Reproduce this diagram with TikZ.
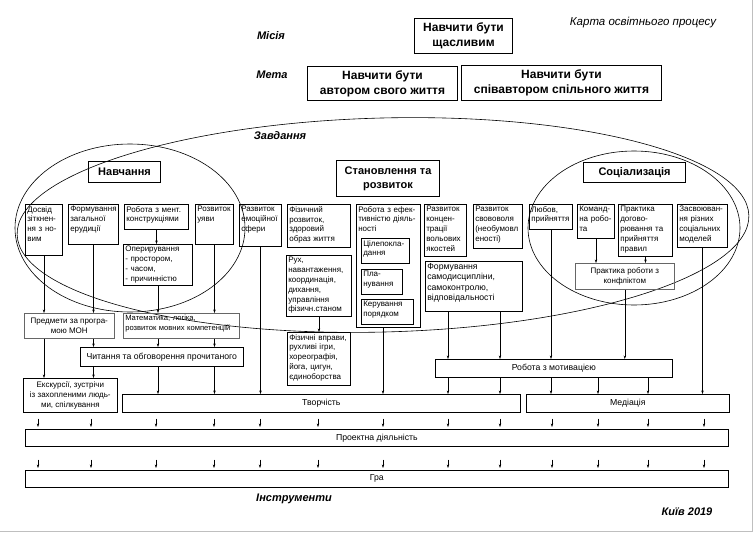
\documentclass[tikz,border=0pt]{standalone}
\usepackage{fontspec}
\setmainfont{Liberation Sans}
\usetikzlibrary{arrows.meta}

\newcommand{\boxfont}{\fontsize{8}{9.8}\selectfont}
\newcommand{\midfont}{\fontsize{8.7}{10.5}\selectfont}
\newcommand{\headfont}{\fontsize{11}{14}\selectfont\bfseries}
\newcommand{\goalfont}{\fontsize{12}{15}\selectfont\bfseries}
\newcommand{\lblfont}{\fontsize{11}{13}\selectfont\bfseries\itshape}

\tikzset{
  sbox/.style={draw, line width=0.6pt, anchor=north west, align=left, inner sep=2pt, font=\boxfont},
  cbox/.style={draw, line width=0.6pt, anchor=north west, align=center, inner sep=1pt, font=\boxfont},
  hbox/.style={draw, line width=1.1pt, anchor=north west, align=center, inner sep=1pt, font=\headfont},
  gbox/.style={draw, line width=1pt, anchor=north west, align=center, inner sep=1pt, font=\goalfont},
  bar/.style={draw, line width=0.7pt, anchor=north west, inner sep=0pt, font=\midfont},
  lbl/.style={font=\lblfont},
  arr/.style={-{Stealth[length=3.5pt,width=2.4pt]}, line width=0.5pt},
  oval/.style={line width=0.6pt},
}

\begin{document}
\begin{tikzpicture}[x=1pt, y=-1pt]
\useasboundingbox (0,0) rectangle (755,533);
\draw[black!25, line width=1pt] (752,0) -- (752,531) -- (0,531);

% labels
\node[lbl] (misia) at (271,36) {Місія};
\node[lbl] (meta) at (272,75) {Мета};
\node[lbl] (zavd) at (280,136) {Завдання};
\node[lbl] (instr) at (294,499) {Інструменти};
\node[lbl] (kyiv) at (687,512) {Київ 2019};
\node[font=\fontsize{11.5}{13}\selectfont\itshape] (karta) at (643,23) {Карта освітнього процесу};

% mission and goals
\node[gbox, minimum width=98pt, minimum height=35pt] (mission) at (414,18) {Навчити бути\\щасливим};
\node[gbox, minimum width=150pt, minimum height=34pt] (goal1) at (307,66) {Навчити бути\\автором свого життя};
\node[gbox, minimum width=200pt, minimum height=35pt] (goal2) at (461,65) {Навчити бути\\співавтором спільного життя};

% ovals
\draw[oval, rotate around={1.5:(383,225)}] (383,225) ellipse [x radius=366pt, y radius=107pt];
\draw[oval] (130,228) ellipse [x radius=115pt, y radius=84pt];
\draw[oval] (634,228) ellipse [x radius=106pt, y radius=77pt];

% headers
\node[hbox, minimum width=72pt, minimum height=21pt] (navch) at (88,161) {Навчання};
\node[hbox, minimum width=103pt, minimum height=36pt] (stanov) at (336,160) {Становлення та\\розвиток};
\node[hbox, minimum width=102pt, minimum height=20pt] (socia) at (583,162) {Соціализація};

% task row
\node[sbox, text width=33.4pt, text depth=41.6pt] (dosvid) at (25,204) {Досвід\\зіткнен-\\ня з но-\\вим};
\node[sbox, text width=46.4pt, text depth=30.6pt] (erud) at (68,204) {Формування\\загальної\\ерудиції};
\node[sbox, text width=60.4pt, text depth=15.6pt] (ment) at (124,204) {Робота з мент.\\конструкціями};
\node[sbox, text width=34.4pt, text depth=30.6pt] (uyava) at (195,204) {Розвиток\\уяви};
\node[sbox, text width=38.4pt, text depth=32.6pt] (emoc) at (239,204) {Развиток\\емоційної\\сфери};
\node[sbox, text width=59.4pt, text depth=32.6pt] (fiz) at (287,204) {Фізичний\\розвиток,\\здоровий\\образ життя};
\node[sbox, text width=60.4pt, text depth=113.6pt] (efekt) at (356,204) {Робота з ефек-\\тивністю діяль-\\ності};
\node[sbox, text width=44.4pt, text depth=15.6pt] (cil) at (361,238) {Цілепокла-\\дання};
\node[sbox, text width=37.4pt, text depth=15.6pt] (plan) at (361,269) {Пла-\\нування};
\node[sbox, text width=48.4pt, text depth=15.6pt] (keruv) at (361,299) {Керування\\порядком};
\node[sbox, text width=38.4pt, text depth=42.6pt] (konc) at (424,204) {Развиток\\концен-\\трації\\вольових\\якостей};
\node[sbox, text width=45.4pt, text depth=34.6pt] (svav) at (473,204) {Развиток\\свововоля\\(необумовл\\еності)};
\node[sbox, text width=39.4pt, text depth=15.6pt] (liubov) at (529,204) {Любов,\\прийняття};
\node[sbox, text width=33.4pt, text depth=24.6pt] (komanda) at (577,204) {Команд-\\на робо-\\та};
\node[sbox, text width=50.4pt, text depth=42.6pt] (dogov) at (618,204) {Практика\\догово-\\рювання та\\прийняття\\правил};
\node[sbox, text width=46.4pt, text depth=33.6pt] (zasv) at (677,204) {Засвоюван-\\ня різних\\соціальних\\моделей};

% second level
\node[sbox, text width=65.4pt, text depth=31.6pt] (operyr) at (123,244) {Оперирування\\- простором,\\- часом,\\- причинністю};
\node[sbox, text width=61.4pt, text depth=51.6pt] (rukh) at (286,255) {Рух,\\навантаження,\\координація,\\дихання,\\управління\\фізичн.станом};
\node[sbox, font=\midfont, text width=93.4pt, text depth=40pt] (samod) at (425,261) {Формування\\самодисципліни,\\самоконтролю,\\відповідальності};
\node[cbox, draw=black!60, minimum width=99pt, minimum height=26pt] (konflikt) at (575,263) {Практика роботи з\\конфліктом};

% third level
\node[cbox, draw=black!60, minimum width=90pt, minimum height=25pt] (predm) at (24,313) {Предмети за програ-\\мою МОН};
\node[sbox, draw=black!60, font=\fontsize{7.6}{9.8}\selectfont, text width=112.4pt, text depth=15.6pt] (matem) at (123,313) {Математика, логіка,\\розвиток мовних компетенцій};
\node[cbox, font=\midfont, minimum width=163pt, minimum height=19pt] (chyt) at (80,347) {Читання та обговорення прочитаного};
\node[sbox, text width=59.4pt, text depth=43.6pt] (fizv) at (287,332) {Фізичні вправи,\\рухливі ігри,\\хореографія,\\йога, цигун,\\єдиноборства};
\node[cbox, minimum width=94pt, minimum height=34pt] (ekskurs) at (23,378) {Екскурсії, зустрічи\\із захопленими людь-\\ми, спілкування};

% tools
\node[bar, minimum width=237pt, minimum height=18pt] (motyv) at (435,359) {Робота з мотивацією};
\node[bar, minimum width=398pt, minimum height=18pt] (tvorch) at (122,394) {Творчість};
\node[bar, minimum width=203pt, minimum height=18pt] (mediac) at (526,394) {Медіація};
\node[bar, minimum width=703pt, minimum height=17pt] (proekt) at (25,429) {Проектна діяльність};
\node[bar, minimum width=703pt, minimum height=17pt] (gra) at (25,470) {Гра};

% arrow columns
\foreach \x [count=\i] in {38,91,156,214,260,318,383,448,500,552,598,648,704}
  \coordinate (k\i) at (\x,0);

% left block
\draw[arr] (dosvid) -- (dosvid |- predm.north);
\draw[arr] (erud) -- (erud |- predm.north);
\draw[arr] (ment) -- (ment |- operyr.north);
\draw[arr] (operyr) -- (operyr |- matem.north);
\draw[arr] (uyava) -- (uyava |- matem.north);
\draw[arr] (dosvid |- predm.south) -- (dosvid |- ekskurs.north);
\draw[arr] (erud |- predm.south) -- (erud |- chyt.north);
\draw[arr] (operyr |- matem.south) -- (operyr |- chyt.north);
\draw[arr] (uyava |- matem.south) -- (uyava |- chyt.north);
\draw[arr] (erud |- chyt.south) -- (erud |- ekskurs.north);
\draw[arr] (operyr |- chyt.south) -- (operyr |- tvorch.north);
\draw[arr] (uyava |- chyt.south) -- (uyava |- tvorch.north);

% middle block
\draw[arr] (emoc) -- (emoc |- tvorch.north);
\draw[arr] (rukh) -- (rukh |- fizv.north);
\draw[arr] (k7 |- efekt.south) -- (k7 |- tvorch.north);
\draw[arr] (k8 |- samod.south) -- (k8 |- motyv.north);
\draw[arr] (k9 |- samod.south) -- (k9 |- motyv.north);

% right block
\draw[arr] (liubov) -- (liubov |- motyv.north);
\draw[arr] (komanda) -- (komanda |- konflikt.north);
\draw[arr] (dogov) -- (dogov |- konflikt.north);
\draw[arr] (konflikt) -- (konflikt |- motyv.north);
\draw[arr] (zasv) -- (zasv |- mediac.north);
\draw[arr] (k8 |- motyv.south) -- (k8 |- tvorch.north);
\draw[arr] (k9 |- motyv.south) -- (k9 |- tvorch.north);
\draw[arr] (liubov |- motyv.south) -- (liubov |- mediac.north);
\draw[arr] (k11 |- motyv.south) -- (k11 |- mediac.north);
\draw[arr] (k12 |- motyv.south) -- (k12 |- mediac.north);

% short arrows to project work and play
\foreach \i in {1,...,13} {
  \draw[arr] ([yshift=-6pt]k\i |- tvorch.south) -- ([yshift=2pt]k\i |- proekt.north);
  \draw[arr] ([yshift=-13pt]k\i |- proekt.south) -- ([yshift=2pt]k\i |- gra.north);
}

\end{tikzpicture}
\end{document}
